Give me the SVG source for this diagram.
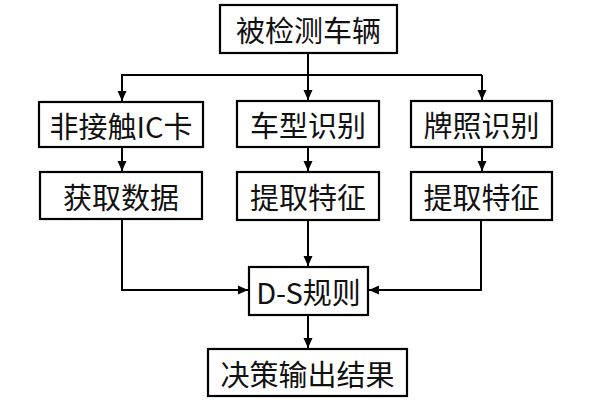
<svg xmlns="http://www.w3.org/2000/svg" width="616" height="400" viewBox="0 0 616 400">
<style>
.box{fill:#fff;stroke:#000;stroke-width:2.2}
.t{font-family:"Noto Sans CJK SC","Noto Sans",sans-serif;font-size:29px;fill:#111;text-anchor:middle;dominant-baseline:central}
.c{fill:none;stroke:#000;stroke-width:2}
</style>
<defs>
<marker id="ah" markerUnits="userSpaceOnUse" markerWidth="10" markerHeight="10" viewBox="0 0 10 10" refX="10" refY="5" orient="auto">
<path d="M0,0.5 L10,5 L0,9.5 Z" fill="#000"/>
</marker>
</defs>
<rect width="616" height="400" fill="#fff"/>
<g id="connectors">
<line class="c" x1="308" y1="53" x2="308" y2="75"/>
<line class="c" x1="121" y1="75" x2="482" y2="75"/>
<line class="c" x1="122" y1="75" x2="122" y2="101" marker-end="url(#ah)"/>
<line class="c" x1="308" y1="75" x2="308" y2="100" marker-end="url(#ah)"/>
<line class="c" x1="482" y1="75" x2="482" y2="100" marker-end="url(#ah)"/>
<line class="c" x1="122" y1="147" x2="122" y2="171" marker-end="url(#ah)"/>
<line class="c" x1="308" y1="147" x2="308" y2="171" marker-end="url(#ah)"/>
<line class="c" x1="482" y1="147" x2="482" y2="171" marker-end="url(#ah)"/>
<polyline class="c" points="122,220 122,290 248,290" marker-end="url(#ah)"/>
<line class="c" x1="308" y1="220" x2="308" y2="266" marker-end="url(#ah)"/>
<polyline class="c" points="481,220 481,290 369,290" marker-end="url(#ah)"/>
<line class="c" x1="308" y1="315" x2="308" y2="348" marker-end="url(#ah)"/>
</g>
<g id="n-vehicle"><rect class="box" x="220" y="5" width="177" height="48"/><text class="t" x="308.5" y="29">被检测车辆</text></g>
<g id="n-ic"><rect class="box" x="39" y="102" width="164" height="45"/><text class="t" x="121" y="124.5">非接触IC卡</text></g>
<g id="n-type"><rect class="box" x="237" y="101" width="142" height="46"/><text class="t" x="308" y="124">车型识别</text></g>
<g id="n-plate"><rect class="box" x="411" y="101" width="141" height="46"/><text class="t" x="481.5" y="124">牌照识别</text></g>
<g id="n-data"><rect class="box" x="40" y="172" width="162" height="47"/><text class="t" x="121" y="195.5">获取数据</text></g>
<g id="n-feat1"><rect class="box" x="237" y="172" width="142" height="48"/><text class="t" x="308" y="196">提取特征</text></g>
<g id="n-feat2"><rect class="box" x="411" y="172" width="141" height="48"/><text class="t" x="481.5" y="196">提取特征</text></g>
<g id="n-ds"><rect class="box" x="249" y="267" width="119" height="48"/><text class="t" x="308.5" y="291">D-S规则</text></g>
<g id="n-out"><rect class="box" x="208" y="349" width="199" height="47"/><text class="t" x="307.5" y="372.5">决策输出结果</text></g>
</svg>
